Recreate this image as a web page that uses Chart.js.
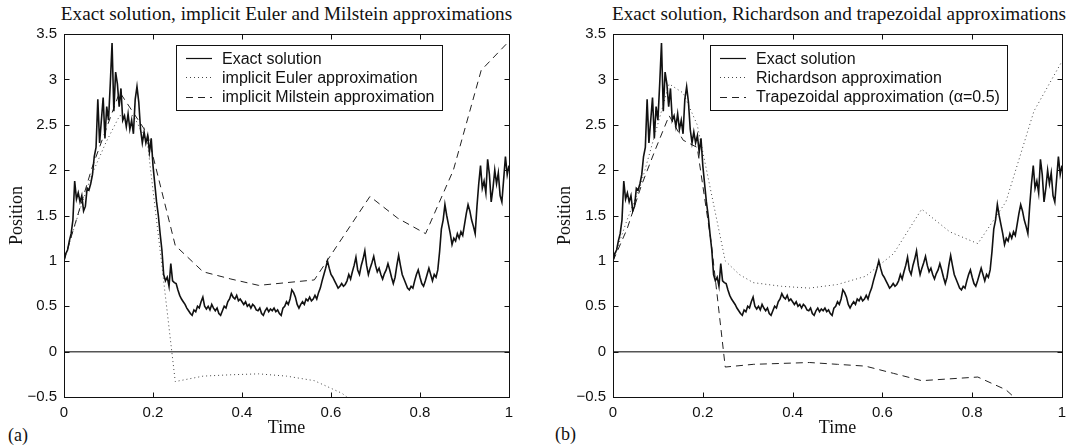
<!DOCTYPE html>
<html><head><meta charset="utf-8">
<script src="https://cdn.jsdelivr.net/npm/chart.js@4.4.1/dist/chart.umd.min.js"></script>
<style>
body{margin:0;background:#fff;width:1076px;height:448px;overflow:hidden;position:relative;font-family:"Liberation Serif",serif;color:#111}
canvas{position:absolute;top:0}
#c1{left:0}
#c2{left:538px}
.title{position:absolute;top:3px;font-size:19.2px;white-space:nowrap;transform:translateX(-50%);line-height:normal}
.lab{position:absolute;font-size:18px;line-height:normal}
</style></head>
<body>
<div class="title" style="left:286.5px">Exact solution, implicit Euler and Milstein approximations</div>
<div class="title" style="left:839px">Exact solution, Richardson and trapezoidal approximations</div>
<div class="lab" style="left:8px;top:425px">(a)</div>
<div class="lab" style="left:555px;top:424px">(b)</div>
<canvas id="c1" width="538" height="448"></canvas>
<canvas id="c2" width="538" height="448"></canvas>
<script>
// ---- data ----
const dtExact = 0.004;
const exactValues = [
1.00,1.08,1.12,1.22,1.30,1.45,1.88,1.68,1.75,1.65,
1.72,1.55,1.60,1.80,1.78,1.85,1.95,2.15,2.25,2.78,
2.30,2.55,2.80,2.35,2.70,2.55,2.95,3.40,2.65,3.08,
2.95,2.70,2.90,2.55,2.60,2.48,2.62,2.45,2.55,2.40,
2.78,2.92,2.75,2.45,2.30,2.42,2.30,2.38,2.20,2.35,
2.05,1.85,1.65,1.50,1.30,1.12,0.85,0.78,0.82,0.72,
0.97,0.78,0.76,0.75,0.68,0.62,0.58,0.55,0.52,0.48,
0.45,0.42,0.40,0.46,0.44,0.50,0.48,0.55,0.60,0.50,
0.47,0.50,0.46,0.52,0.48,0.45,0.48,0.42,0.40,0.45,
0.50,0.48,0.55,0.58,0.64,0.60,0.58,0.62,0.56,0.58,
0.55,0.52,0.55,0.50,0.52,0.48,0.52,0.50,0.46,0.45,
0.48,0.42,0.40,0.45,0.48,0.44,0.47,0.45,0.48,0.44,
0.46,0.42,0.40,0.48,0.50,0.55,0.52,0.58,0.68,0.65,
0.60,0.52,0.48,0.52,0.55,0.52,0.58,0.56,0.60,0.56,
0.58,0.62,0.58,0.65,0.70,0.78,0.85,0.92,1.00,0.92,
0.85,0.82,0.78,0.74,0.70,0.72,0.75,0.72,0.74,0.78,
0.85,0.80,0.88,0.95,1.04,0.90,0.85,0.95,1.02,1.11,
0.95,0.85,0.92,0.98,1.05,0.95,0.88,0.92,0.85,0.80,
0.86,0.90,0.97,0.90,0.82,0.75,0.82,0.95,1.06,0.95,
0.85,0.80,0.75,0.70,0.68,0.72,0.70,0.78,0.85,0.90,
0.82,0.75,0.72,0.78,0.85,0.92,0.85,0.78,0.85,0.82,
0.90,1.10,1.35,1.45,1.62,1.50,1.40,1.30,1.18,1.25,
1.22,1.30,1.25,1.32,1.28,1.40,1.52,1.62,1.55,1.45,
1.38,1.30,1.60,1.85,2.05,1.80,1.88,1.75,2.12,1.95,
1.65,1.80,2.00,1.85,1.97,1.72,1.65,1.90,2.15,1.95,
2.05];

const eulerTime  = [0,0.03125,0.0625,0.09375,0.125,0.15625,0.1875,0.21875,0.25,0.3125,0.375,0.4375,0.5,0.5625,0.625,0.6875,0.75];
const eulerValues= [1.0,1.5,1.95,2.3,2.6,2.6,2.3,1.0,-0.33,-0.27,-0.255,-0.245,-0.27,-0.32,-0.46,-0.7,-1.0];

const milsteinTime  = [0,0.0625,0.125,0.1875,0.25,0.3125,0.375,0.4375,0.5,0.5625,0.625,0.6875,0.75,0.8125,0.875,0.9375,1];
const milsteinValues= [1.0,2.02,2.86,2.4,1.17,0.88,0.80,0.73,0.76,0.79,1.25,1.71,1.47,1.30,2.0,3.1,3.42];

const richardsonTime  = [0,0.03125,0.0625,0.09375,0.125,0.15625,0.1875,0.21875,0.25,0.28125,0.3125,0.375,0.4375,0.5,0.5625,0.625,0.6875,0.75,0.8125,0.875,0.9375,1];
const richardsonValues= [1.0,1.45,1.85,2.4,2.95,2.85,2.5,1.75,1.0,0.85,0.76,0.72,0.70,0.74,0.83,1.08,1.57,1.32,1.19,1.65,2.65,3.2];

const trapTime  = [0,0.03125,0.0625,0.09375,0.125,0.15625,0.1875,0.21875,0.25,0.3125,0.375,0.4375,0.5,0.5625,0.625,0.6875,0.75,0.8125,0.875,0.9375,1];
const trapValues= [1.0,1.35,1.82,2.22,2.6,2.33,2.25,1.2,-0.17,-0.14,-0.13,-0.12,-0.14,-0.16,-0.24,-0.32,-0.30,-0.28,-0.42,-0.7,-0.9];

const xTickLabels = ['0','0.2','0.4','0.6','0.8','1'];
const yTickLabels = ['\u22120.5','0','0.5','1','1.5','2','2.5','3','3.5'];

// ---- helpers ----
const toPts = (xs, ys) => ys.map((v,i)=>({x:xs[i], y:v}));
const exactPts = exactValues.map((v,i)=>({x:+(i*dtExact).toFixed(3), y:v}));

const boxPlugin = {
  id:'mbox',
  afterDatasetsDraw(chart){
    const {ctx, chartArea:ca, scales:{x,y}} = chart;
    ctx.save();
    ctx.strokeStyle='#111'; ctx.lineWidth=1; ctx.setLineDash([]);
    const l=Math.round(ca.left)+0.5, r=Math.round(ca.right)+0.5, t=Math.round(ca.top)+0.5, b=Math.round(ca.bottom)+0.5;
    ctx.strokeRect(l,t,r-l,b-t);
    const L=5;
    ctx.beginPath();
    x.ticks.forEach(tk=>{const px=Math.round(x.getPixelForValue(tk.value))+0.5;
      ctx.moveTo(px,t); ctx.lineTo(px,t+L); ctx.moveTo(px,b); ctx.lineTo(px,b-L);});
    y.ticks.forEach(tk=>{const py=Math.round(y.getPixelForValue(tk.value))+0.5;
      ctx.moveTo(l,py); ctx.lineTo(l+L,py); ctx.moveTo(r,py); ctx.lineTo(r-L,py);});
    ctx.stroke();
    ctx.restore();
  }
};

const legendPlugin = {
  id:'boxLegend',
  afterDraw(chart, args, o){
    const {ctx, chartArea:ca} = chart;
    const items = chart.data.datasets;
    ctx.save();
    ctx.font = o.font;
    let maxW = 0;
    items.forEach(d=>{maxW=Math.max(maxW, ctx.measureText(d.label).width);});
    const x0 = Math.round(ca.left + o.dx), y0 = Math.round(ca.top + o.dy);
    const w = Math.round(o.textOffset + maxW + o.padRight);
    const h = Math.round(o.rowH*items.length + o.padV*2);
    ctx.fillStyle='#fff'; ctx.fillRect(x0,y0,w,h);
    ctx.strokeStyle='#111'; ctx.lineWidth=1; ctx.strokeRect(x0+0.5,y0+0.5,w,h);
    items.forEach((d,i)=>{
      const cy = y0 + o.padV + o.rowH*(i+0.5);
      ctx.beginPath();
      ctx.setLineDash(d.borderDash||[]);
      ctx.strokeStyle=d.borderColor; ctx.lineWidth=Math.min(d.borderWidth,1.2);
      ctx.moveTo(x0+o.lineStart, Math.round(cy)+0.5);
      ctx.lineTo(x0+o.lineStart+o.lineLen, Math.round(cy)+0.5);
      ctx.stroke();
      ctx.setLineDash([]);
      ctx.fillStyle='#111'; ctx.textBaseline='middle'; ctx.textAlign='left';
      ctx.fillText(d.label, x0+o.textOffset, cy+1);
    });
    ctx.restore();
  }
};

function makeChart(id, datasets, yWidth, yTitlePad, padRight, legendDx){
  return new Chart(document.getElementById(id), {
    type:'line',
    data:{datasets},
    plugins:[boxPlugin, legendPlugin],
    options:{
      responsive:false, animation:false, devicePixelRatio:1,
      layout:{padding:{left:0, right:padRight, top:34, bottom:0}},
      parsing:false, normalized:true,
      elements:{point:{radius:0}, line:{tension:0}},
      plugins:{
        legend:{display:false}, title:{display:false}, tooltip:{enabled:false},
        boxLegend:{font:'16px "Liberation Sans", Arial, sans-serif', dx:legendDx, dy:11, rowH:19.2, padV:3.5,
          lineStart:10, lineLen:26, textOffset:46, padRight:7}
      },
      scales:{
        x:{type:'linear', min:0, max:1,
          afterFit(s){ s.height = 51; },
          grid:{display:false, drawTicks:false},
          border:{display:false},
          ticks:{stepSize:0.2, padding:7, color:'#111', maxRotation:0,
            font:{family:'"Liberation Sans", Arial, sans-serif', size:15},
            callback:(v,i)=>xTickLabels[i]},
          title:{display:true, text:'Time', color:'#111', padding:{top:9,bottom:9},
            font:{family:'"Liberation Serif", serif', size:18}}
        },
        y:{type:'linear', min:-0.5, max:3.5,
          afterFit(s){ s.width = yWidth; },
          grid:{drawTicks:false, color:c=>(c.tick && c.tick.value===0)?'#555':'rgba(0,0,0,0)', lineWidth:1.5},
          border:{display:false},
          ticks:{stepSize:0.5, padding:7, color:'#111',
            font:{family:'"Liberation Sans", Arial, sans-serif', size:15},
            callback:(v,i)=>yTickLabels[i]},
          title:{display:true, text:'Position', color:'#111', padding:{top:yTitlePad,bottom:yTitlePad},
            font:{family:'"Liberation Serif", serif', size:18}}
        }
      }
    }
  });
}

const exactDs = () => ({label:'Exact solution', data:exactPts, borderColor:'#111', borderWidth:1.6, fill:false});

makeChart('c1', [
  exactDs(),
  {label:'implicit Euler approximation', data:toPts(eulerTime,eulerValues), borderColor:'#444', borderWidth:1, borderDash:[1,3], fill:false},
  {label:'implicit Milstein approximation', data:toPts(milsteinTime,milsteinValues), borderColor:'#222', borderWidth:1, borderDash:[7,5], fill:false}
], 64, 6, 29, 112);

makeChart('c2', [
  exactDs(),
  {label:'Richardson approximation', data:toPts(richardsonTime,richardsonValues), borderColor:'#444', borderWidth:1, borderDash:[1,3], fill:false},
  {label:'Trapezoidal approximation (\u03b1=0.5)', data:toPts(trapTime,trapValues), borderColor:'#222', borderWidth:1, borderDash:[7,5], fill:false}
], 75, 16, 14, 97);
</script>
</body></html>
